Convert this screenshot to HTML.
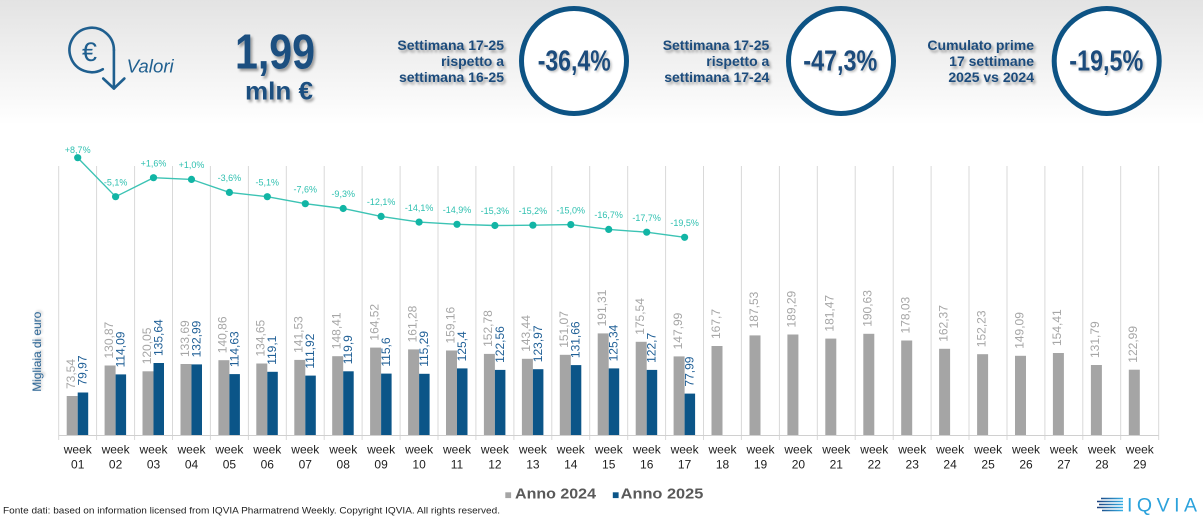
<!DOCTYPE html>
<html><head><meta charset="utf-8">
<style>
html,body{margin:0;padding:0;background:#fff;}
body{width:1203px;height:517px;overflow:hidden;}
svg{display:block;font-family:"Liberation Sans",Arial,sans-serif;}
.g{font-size:12px;fill:#a6a6a6;}
.b{font-size:12px;fill:#1f5f96;}
.wk{font-size:12px;fill:#1e1e1e;text-anchor:middle;}
.ll{font-size:9px;fill:#2fc0b0;text-anchor:middle;}
.hd{font-size:14px;font-weight:bold;fill:#1b4c7c;text-anchor:end;}
.pc{font-size:29px;font-weight:bold;fill:#1b4c7c;}
</style></head>
<body>
<svg width="1203" height="517" viewBox="0 0 1203 517" xmlns="http://www.w3.org/2000/svg">
<defs>
<linearGradient id="bg" x1="0" y1="0" x2="0" y2="1">
<stop offset="0" stop-color="#e3e3e3"/>
<stop offset="1" stop-color="#ffffff"/>
</linearGradient>
<linearGradient id="lg" x1="0" y1="0" x2="1" y2="0">
<stop offset="0" stop-color="#1b3d7a"/>
<stop offset="1" stop-color="#35b0e6"/>
</linearGradient>
<filter id="sh" x="-10%" y="-20%" width="130%" height="160%">
<feDropShadow dx="2" dy="2.5" stdDeviation="1.4" flood-color="#000" flood-opacity="0.35"/>
</filter>
<filter id="sh2" x="-10%" y="-20%" width="130%" height="160%">
<feDropShadow dx="1.5" dy="1.5" stdDeviation="1" flood-color="#000" flood-opacity="0.25"/>
</filter>
</defs>

<rect x="0" y="0" width="1203" height="125" fill="url(#bg)"/>

<!-- Euro icon -->
<g stroke="#1f5f8f" stroke-width="2.6" fill="none" stroke-linecap="round" stroke-linejoin="round">
<path d="M113.9,50 A22.2,22.2 0 1 0 102.8,69.2"/>
<path d="M113.9,50 L113.9,88.5"/>
<path d="M103.2,78.5 L113.9,88.5 L124.4,78.5"/>
</g>
<text x="89.5" y="61" font-size="27" fill="#1f5f8f" text-anchor="middle">€</text>
<text x="126.7" y="72.5" font-size="18" font-style="italic" fill="#1f5f8f" textLength="47" lengthAdjust="spacingAndGlyphs">Valori</text>

<!-- big number -->
<g filter="url(#sh)">
<text x="235" y="68.3" font-size="49" font-weight="bold" fill="#1b4f80" textLength="80" lengthAdjust="spacingAndGlyphs">1,99</text>
<text x="245" y="99.5" font-size="25" font-weight="bold" fill="#1b4f80" textLength="68" lengthAdjust="spacingAndGlyphs">mln €</text>
</g>

<!-- header blocks -->
<g filter="url(#sh)">
<text class="hd" x="504" y="50">Settimana 17-25</text>
<text class="hd" x="504" y="66">rispetto a</text>
<text class="hd" x="504" y="82">settimana 16-25</text>
<text class="hd" x="769.3" y="50">Settimana 17-25</text>
<text class="hd" x="769.3" y="66">rispetto a</text>
<text class="hd" x="769.3" y="82">settimana 17-24</text>
<text class="hd" x="1034" y="50">Cumulato prime</text>
<text class="hd" x="1034" y="66">17 settimane</text>
<text class="hd" x="1034" y="82">2025 vs 2024</text>
</g>

<!-- circles -->
<g fill="#fff" stroke="#0d5384" stroke-width="5">
<circle cx="574" cy="61" r="52.5"/>
<circle cx="841" cy="61" r="52.5"/>
<circle cx="1106.7" cy="61" r="52.5"/>
</g>
<g filter="url(#sh2)">
<text class="pc" x="537.7" y="70.7" textLength="73" lengthAdjust="spacingAndGlyphs">-36,4%</text>
<text class="pc" x="803.3" y="70.7" textLength="74" lengthAdjust="spacingAndGlyphs">-47,3%</text>
<text class="pc" x="1069.3" y="70.7" textLength="74" lengthAdjust="spacingAndGlyphs">-19,5%</text>
</g>

<!-- gridlines -->
<g stroke="#d9d9d9" stroke-width="1">
<path d="M58.7,166V440M96.6,166V440M134.6,166V440M172.5,166V440M210.4,166V440M248.4,166V440M286.3,166V440M324.2,166V440M362.1,166V440M400.1,166V440M438,166V440M475.9,166V440M513.9,166V440M551.8,166V440M589.7,166V440M627.7,166V440M665.6,166V440M703.5,166V440M741.4,166V440M779.4,166V440M817.3,166V440M855.2,166V440M893.2,166V440M931.1,166V440M969,166V440M1007,166V440M1044.9,166V440M1082.8,166V440M1120.7,166V440M1158.7,166V440"/>
<path d="M58.7,435.5H1158.7" stroke="#d0d0d0"/>
</g>

<!-- y axis label -->
<text transform="translate(41,351.7) rotate(-90)" font-size="12" fill="#1f5a8c" text-anchor="middle" textLength="80" lengthAdjust="spacingAndGlyphs" filter="url(#sh2)">Migliaia di euro</text>

<!-- bars -->
<g fill="#a5a5a5">
<rect x="66.7" y="396.0" width="11" height="39.0"/>
<rect x="104.6" y="365.5" width="11" height="69.5"/>
<rect x="142.5" y="371.3" width="11" height="63.7"/>
<rect x="180.5" y="364.0" width="11" height="71.0"/>
<rect x="218.4" y="360.2" width="11" height="74.8"/>
<rect x="256.3" y="363.5" width="11" height="71.5"/>
<rect x="294.3" y="359.9" width="11" height="75.1"/>
<rect x="332.2" y="356.2" width="11" height="78.8"/>
<rect x="370.1" y="347.6" width="11" height="87.4"/>
<rect x="408.1" y="349.4" width="11" height="85.6"/>
<rect x="446.0" y="350.5" width="11" height="84.5"/>
<rect x="483.9" y="353.9" width="11" height="81.1"/>
<rect x="521.9" y="358.8" width="11" height="76.2"/>
<rect x="559.8" y="354.8" width="11" height="80.2"/>
<rect x="597.7" y="333.4" width="11" height="101.6"/>
<rect x="635.7" y="341.8" width="11" height="93.2"/>
<rect x="673.6" y="356.4" width="11" height="78.6"/>
<rect x="711.5" y="346.0" width="11" height="89.0"/>
<rect x="749.5" y="335.4" width="11" height="99.6"/>
<rect x="787.4" y="334.5" width="11" height="100.5"/>
<rect x="825.3" y="338.6" width="11" height="96.4"/>
<rect x="863.3" y="333.8" width="11" height="101.2"/>
<rect x="901.2" y="340.5" width="11" height="94.5"/>
<rect x="939.1" y="348.8" width="11" height="86.2"/>
<rect x="977.1" y="354.2" width="11" height="80.8"/>
<rect x="1015.0" y="355.8" width="11" height="79.2"/>
<rect x="1052.9" y="353.0" width="11" height="82.0"/>
<rect x="1090.9" y="365.0" width="11" height="70.0"/>
<rect x="1128.8" y="369.7" width="11" height="65.3"/>
</g>
<g fill="#0b5588">
<rect x="77.7" y="392.5" width="10.5" height="42.5"/>
<rect x="115.6" y="374.4" width="10.5" height="60.6"/>
<rect x="153.5" y="363.0" width="10.5" height="72.0"/>
<rect x="191.5" y="364.4" width="10.5" height="70.6"/>
<rect x="229.4" y="374.1" width="10.5" height="60.9"/>
<rect x="267.3" y="371.8" width="10.5" height="63.2"/>
<rect x="305.3" y="375.6" width="10.5" height="59.4"/>
<rect x="343.2" y="371.3" width="10.5" height="63.7"/>
<rect x="381.1" y="373.6" width="10.5" height="61.4"/>
<rect x="419.1" y="373.8" width="10.5" height="61.2"/>
<rect x="457.0" y="368.4" width="10.5" height="66.6"/>
<rect x="494.9" y="369.9" width="10.5" height="65.1"/>
<rect x="532.9" y="369.2" width="10.5" height="65.8"/>
<rect x="570.8" y="365.1" width="10.5" height="69.9"/>
<rect x="608.7" y="368.4" width="10.5" height="66.6"/>
<rect x="646.7" y="369.9" width="10.5" height="65.1"/>
<rect x="684.6" y="393.6" width="10.5" height="41.4"/>
</g>

<!-- gray labels -->
<g class="g">
<text transform="translate(75.0,389.0) rotate(-90)">73,54</text>
<text transform="translate(112.9,358.5) rotate(-90)">130,87</text>
<text transform="translate(150.8,364.3) rotate(-90)">120,05</text>
<text transform="translate(188.8,357.0) rotate(-90)">133,69</text>
<text transform="translate(226.7,353.2) rotate(-90)">140,86</text>
<text transform="translate(264.6,356.5) rotate(-90)">134,65</text>
<text transform="translate(302.6,352.9) rotate(-90)">141,53</text>
<text transform="translate(340.5,349.2) rotate(-90)">148,41</text>
<text transform="translate(378.4,340.6) rotate(-90)">164,52</text>
<text transform="translate(416.4,342.4) rotate(-90)">161,28</text>
<text transform="translate(454.3,343.5) rotate(-90)">159,16</text>
<text transform="translate(492.2,346.9) rotate(-90)">152,78</text>
<text transform="translate(530.2,351.8) rotate(-90)">143,44</text>
<text transform="translate(568.1,347.8) rotate(-90)">151,07</text>
<text transform="translate(606.0,326.4) rotate(-90)">191,31</text>
<text transform="translate(644.0,334.8) rotate(-90)">175,54</text>
<text transform="translate(681.9,349.4) rotate(-90)">147,99</text>
<text transform="translate(719.8,339.0) rotate(-90)">167,7</text>
<text transform="translate(757.8,328.4) rotate(-90)">187,53</text>
<text transform="translate(795.7,327.5) rotate(-90)">189,29</text>
<text transform="translate(833.6,331.6) rotate(-90)">181,47</text>
<text transform="translate(871.6,326.8) rotate(-90)">190,63</text>
<text transform="translate(909.5,333.5) rotate(-90)">178,03</text>
<text transform="translate(947.4,341.8) rotate(-90)">162,37</text>
<text transform="translate(985.4,347.2) rotate(-90)">152,23</text>
<text transform="translate(1023.3,348.8) rotate(-90)">149,09</text>
<text transform="translate(1061.2,346.0) rotate(-90)">154,41</text>
<text transform="translate(1099.2,358.0) rotate(-90)">131,79</text>
<text transform="translate(1137.1,362.7) rotate(-90)">122,99</text>
</g>
<!-- blue labels -->
<g class="b">
<text transform="translate(86.6,385.5) rotate(-90)">79,97</text>
<text transform="translate(124.5,367.4) rotate(-90)">114,09</text>
<text transform="translate(162.4,356.0) rotate(-90)">135,64</text>
<text transform="translate(200.4,357.4) rotate(-90)">132,99</text>
<text transform="translate(238.3,367.1) rotate(-90)">114,63</text>
<text transform="translate(276.2,364.8) rotate(-90)">119,1</text>
<text transform="translate(314.2,368.6) rotate(-90)">111,92</text>
<text transform="translate(352.1,364.3) rotate(-90)">119,9</text>
<text transform="translate(390.0,366.6) rotate(-90)">115,6</text>
<text transform="translate(428.0,366.8) rotate(-90)">115,29</text>
<text transform="translate(465.9,361.4) rotate(-90)">125,4</text>
<text transform="translate(503.8,362.9) rotate(-90)">122,56</text>
<text transform="translate(541.8,362.2) rotate(-90)">123,97</text>
<text transform="translate(579.7,358.1) rotate(-90)">131,66</text>
<text transform="translate(617.6,361.4) rotate(-90)">125,34</text>
<text transform="translate(655.6,362.9) rotate(-90)">122,7</text>
<text transform="translate(693.5,386.6) rotate(-90)">77,99</text>
</g>

<!-- x axis labels -->
<g class="wk">
<text x="77.7" y="453.5">week</text><text x="77.7" y="468.3">01</text>
<text x="115.6" y="453.5">week</text><text x="115.6" y="468.3">02</text>
<text x="153.5" y="453.5">week</text><text x="153.5" y="468.3">03</text>
<text x="191.5" y="453.5">week</text><text x="191.5" y="468.3">04</text>
<text x="229.4" y="453.5">week</text><text x="229.4" y="468.3">05</text>
<text x="267.3" y="453.5">week</text><text x="267.3" y="468.3">06</text>
<text x="305.3" y="453.5">week</text><text x="305.3" y="468.3">07</text>
<text x="343.2" y="453.5">week</text><text x="343.2" y="468.3">08</text>
<text x="381.1" y="453.5">week</text><text x="381.1" y="468.3">09</text>
<text x="419.1" y="453.5">week</text><text x="419.1" y="468.3">10</text>
<text x="457.0" y="453.5">week</text><text x="457.0" y="468.3">11</text>
<text x="494.9" y="453.5">week</text><text x="494.9" y="468.3">12</text>
<text x="532.9" y="453.5">week</text><text x="532.9" y="468.3">13</text>
<text x="570.8" y="453.5">week</text><text x="570.8" y="468.3">14</text>
<text x="608.7" y="453.5">week</text><text x="608.7" y="468.3">15</text>
<text x="646.7" y="453.5">week</text><text x="646.7" y="468.3">16</text>
<text x="684.6" y="453.5">week</text><text x="684.6" y="468.3">17</text>
<text x="722.5" y="453.5">week</text><text x="722.5" y="468.3">18</text>
<text x="760.5" y="453.5">week</text><text x="760.5" y="468.3">19</text>
<text x="798.4" y="453.5">week</text><text x="798.4" y="468.3">20</text>
<text x="836.3" y="453.5">week</text><text x="836.3" y="468.3">21</text>
<text x="874.3" y="453.5">week</text><text x="874.3" y="468.3">22</text>
<text x="912.2" y="453.5">week</text><text x="912.2" y="468.3">23</text>
<text x="950.1" y="453.5">week</text><text x="950.1" y="468.3">24</text>
<text x="988.1" y="453.5">week</text><text x="988.1" y="468.3">25</text>
<text x="1026.0" y="453.5">week</text><text x="1026.0" y="468.3">26</text>
<text x="1063.9" y="453.5">week</text><text x="1063.9" y="468.3">27</text>
<text x="1101.9" y="453.5">week</text><text x="1101.9" y="468.3">28</text>
<text x="1139.8" y="453.5">week</text><text x="1139.8" y="468.3">29</text>
</g>

<!-- line series -->
<polyline fill="none" stroke="#3cc3b4" stroke-width="1.4" points="77.7,157.7 115.6,196.7 153.5,177.7 191.5,179.4 229.4,192.4 267.3,196.7 305.3,203.7 343.2,208.5 381.1,216.4 419.1,222.1 457.0,224.3 494.9,225.5 532.9,225.2 570.8,224.6 608.7,229.4 646.7,232.2 684.6,237.3"/>
<g fill="#12b5a5">
<circle cx="77.7" cy="157.7" r="3.6"/>
<circle cx="115.6" cy="196.7" r="3.6"/>
<circle cx="153.5" cy="177.7" r="3.6"/>
<circle cx="191.5" cy="179.4" r="3.6"/>
<circle cx="229.4" cy="192.4" r="3.6"/>
<circle cx="267.3" cy="196.7" r="3.6"/>
<circle cx="305.3" cy="203.7" r="3.6"/>
<circle cx="343.2" cy="208.5" r="3.6"/>
<circle cx="381.1" cy="216.4" r="3.6"/>
<circle cx="419.1" cy="222.1" r="3.6"/>
<circle cx="457.0" cy="224.3" r="3.6"/>
<circle cx="494.9" cy="225.5" r="3.6"/>
<circle cx="532.9" cy="225.2" r="3.6"/>
<circle cx="570.8" cy="224.6" r="3.6"/>
<circle cx="608.7" cy="229.4" r="3.6"/>
<circle cx="646.7" cy="232.2" r="3.6"/>
<circle cx="684.6" cy="237.3" r="3.6"/>
</g>
<g class="ll">
<text x="77.7" y="153.2">+8,7%</text>
<text x="115.6" y="185.4">-5,1%</text>
<text x="153.5" y="166.4">+1,6%</text>
<text x="191.5" y="168.1">+1,0%</text>
<text x="229.4" y="181.1">-3,6%</text>
<text x="267.3" y="185.4">-5,1%</text>
<text x="305.3" y="192.4">-7,6%</text>
<text x="343.2" y="197.2">-9,3%</text>
<text x="381.1" y="205.1">-12,1%</text>
<text x="419.1" y="210.8">-14,1%</text>
<text x="457.0" y="213.0">-14,9%</text>
<text x="494.9" y="214.2">-15,3%</text>
<text x="532.9" y="213.9">-15,2%</text>
<text x="570.8" y="213.3">-15,0%</text>
<text x="608.7" y="218.1">-16,7%</text>
<text x="646.7" y="220.9">-17,7%</text>
<text x="684.6" y="226.0">-19,5%</text>
</g>

<!-- legend -->
<rect x="505.3" y="492.3" width="5.8" height="5.8" fill="#a5a5a5"/>
<text x="515" y="498.3" font-size="15" font-weight="bold" fill="#595959" textLength="81" lengthAdjust="spacingAndGlyphs">Anno 2024</text>
<rect x="612.8" y="492.3" width="5.8" height="5.8" fill="#0b5588"/>
<text x="620.7" y="498.3" font-size="15" font-weight="bold" fill="#595959" textLength="82.6" lengthAdjust="spacingAndGlyphs">Anno 2025</text>

<!-- footer -->
<text x="3" y="513.3" font-size="9.3" fill="#222" textLength="497" lengthAdjust="spacingAndGlyphs">Fonte dati: based on information licensed from IQVIA Pharmatrend Weekly. Copyright IQVIA. All rights reserved.</text>

<!-- IQVIA logo -->
<g stroke="url(#lg)" stroke-width="1.6">
<path d="M1101,498.5H1123M1097,501.5H1123M1099,504.5H1123M1097,507.5H1123M1102,510.5H1123"/>
</g>
<text x="1127" y="511.5" font-size="19.5" fill="#2ba2dc" textLength="70" lengthAdjust="spacing">IQVIA</text>
</svg>
</body></html>
